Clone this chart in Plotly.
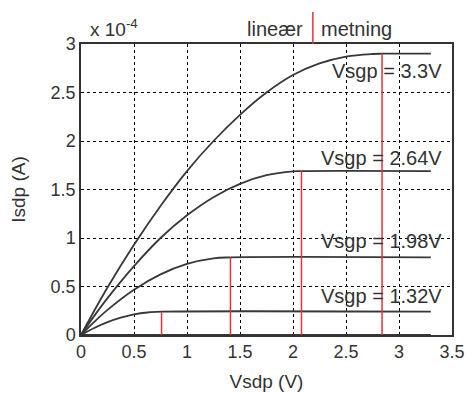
import plotly.graph_objects as go

# Data (Isdp in units of 1e-4 A)
vsd_33 = [0, 0.125, 0.25, 0.5, 0.75, 1.0, 1.25, 1.5, 1.75, 2.0, 2.25, 2.5, 2.75, 2.84, 3.3]
isd_33 = [0, 0.25, 0.49, 0.93, 1.33, 1.69, 2.00, 2.27, 2.50, 2.68, 2.80, 2.87, 2.897, 2.90, 2.90]
vsd_264 = [0, 0.125, 0.25, 0.5, 0.75, 1.0, 1.25, 1.5, 1.75, 2.0, 2.08, 3.3]
isd_264 = [0, 0.197, 0.38, 0.71, 1.00, 1.234, 1.421, 1.558, 1.647, 1.687, 1.69, 1.69]
vsd_198 = [0, 0.125, 0.25, 0.5, 0.75, 1.0, 1.25, 1.41, 3.3]
isd_198 = [0, 0.135, 0.259, 0.467, 0.625, 0.733, 0.79, 0.80, 0.80]
vsd_132 = [0, 0.125, 0.25, 0.375, 0.5, 0.625, 0.76, 3.3]
isd_132 = [0, 0.072, 0.132, 0.178, 0.212, 0.232, 0.24, 0.24]
vsd_0 = [0, 3.3]
isd_0 = [0, 0]

vov = [0.76, 1.41, 2.08, 2.84]
isat = [0.24, 0.80, 1.69, 2.90]

labels = ["Vsgp = 1.32V", "Vsgp = 1.98V", "Vsgp = 2.64V", "Vsgp = 3.3V"]
label_y = [0.407, 0.974, 1.82, 2.72]

xticks = [0, 0.5, 1, 1.5, 2, 2.5, 3, 3.5]
yticks = [0, 0.5, 1, 1.5, 2, 2.5, 3]

curve_col = "#383838"
red = "#e8313c"
txt = "#333333"
font_family = "Liberation Sans, Arial, sans-serif"

fig = go.Figure()
for xs, ys in [(vsd_0, isd_0), (vsd_132, isd_132), (vsd_198, isd_198),
               (vsd_264, isd_264), (vsd_33, isd_33)]:
    fig.add_trace(go.Scatter(x=xs, y=ys, mode="lines",
                             line=dict(color=curve_col, width=1.8, shape="spline", smoothing=1.0),
                             showlegend=False, hoverinfo="skip"))

for v, i in zip(vov, isat):
    fig.add_trace(go.Scatter(x=[v, v], y=[0, i], mode="lines",
                             line=dict(color=red, width=1.5),
                             showlegend=False, hoverinfo="skip"))

for lab, ly in zip(labels, label_y):
    fig.add_annotation(x=3.42, y=ly, xref="x", yref="y", text=lab, showarrow=False,
                       xanchor="right", yanchor="middle",
                       font=dict(size=20, color=txt, family=font_family))

# page body has an 8px offset, so the figure is sized to fit inside the window
fig.update_layout(
    width=465, height=387,
    margin=dict(l=73, r=21, t=36, b=60),
    paper_bgcolor="white", plot_bgcolor="white",
    font=dict(family=font_family, size=18, color=txt),
    xaxis=dict(range=[0, 3.5], tickvals=xticks, ticktext=[f"{t:g}" for t in xticks],
               showgrid=True, gridcolor="black", griddash="dot", gridwidth=1,
               showline=True, linecolor="#333", linewidth=1.5, mirror=True,
               ticks="", zeroline=False, automargin=False,
               title=dict(text="Vsdp (V)", font=dict(size=19, color=txt), standoff=13),
               tickfont=dict(size=18, color=txt)),
    yaxis=dict(range=[0, 3], tickvals=yticks, ticktext=[f"{t:g}" for t in yticks],
               showgrid=True, gridcolor="black", griddash="dot", gridwidth=1,
               showline=True, linecolor="#333", linewidth=1.5, mirror=True,
               ticks="", zeroline=False, automargin=False,
               title=dict(text="Isdp (A)", font=dict(size=19, color=txt), standoff=24),
               tickfont=dict(size=18, color=txt)),
)

# x 10^-4 label
fig.add_annotation(x=0.018, y=1.0, xref="paper", yref="paper", yshift=2,
                   text="x 10<sup>-4</sup>", showarrow=False, xanchor="left", yanchor="bottom",
                   font=dict(size=19, color=txt, family=font_family))
# lineær | metning
fig.add_annotation(x=0.605, y=1.0, xref="paper", yref="paper", yshift=2,
                   text="lineær", showarrow=False, xanchor="right", yanchor="bottom",
                   font=dict(size=20, color=txt, family=font_family))
fig.add_annotation(x=0.641, y=1.0, xref="paper", yref="paper", yshift=2,
                   text="metning", showarrow=False, xanchor="left", yanchor="bottom",
                   font=dict(size=20, color=txt, family=font_family))
fig.add_shape(type="line", xref="paper", yref="paper", x0=0.625, x1=0.625, y0=1.0, y1=1.11,
              line=dict(color=red, width=1.5))

fig.write_html("out.html")
